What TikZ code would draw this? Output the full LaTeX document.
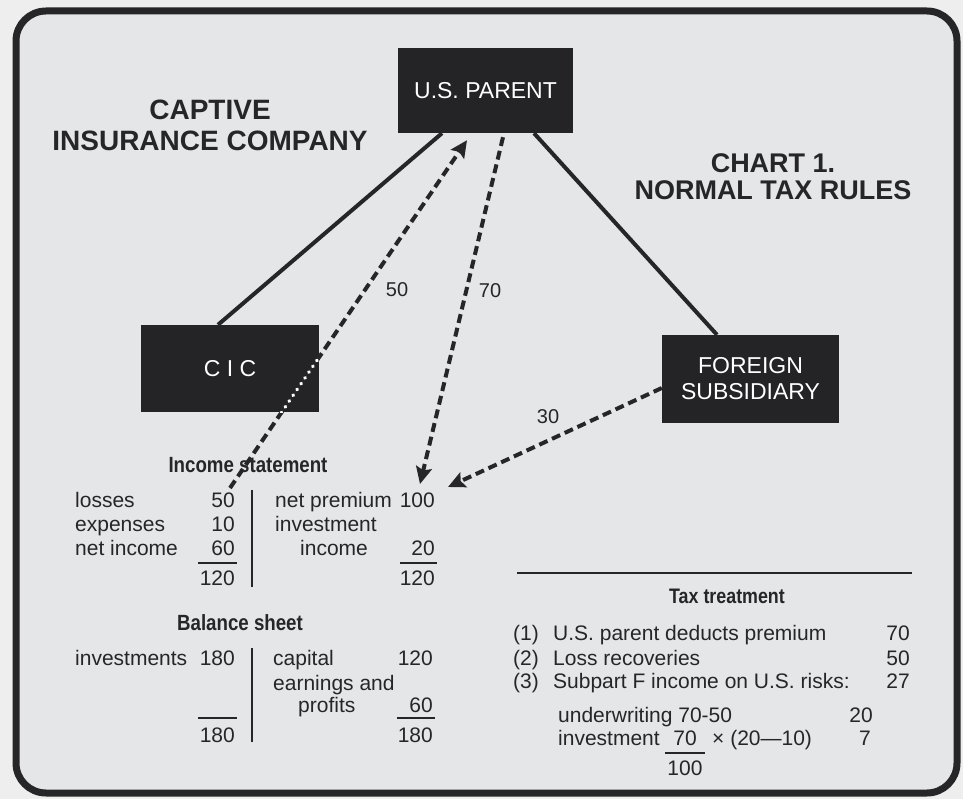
\documentclass[tikz,border=0pt]{standalone}
\usepackage{fontspec}
\setmainfont{Liberation Sans}
\newfontfamily\headfont{Liberation Sans}[FakeStretch=0.85]
\usetikzlibrary{arrows.meta,positioning}
\definecolor{page}{RGB}{238,238,238}
\definecolor{board}{RGB}{229,230,232}
\definecolor{ink}{RGB}{38,38,40}
\definecolor{boxfill}{RGB}{36,35,37}
\tikzset{
    entity/.style={
	rectangle,
	fill=boxfill,
	text=white,
	inner sep=0pt,
	align=center,
	font=\fontsize{23}{26}\selectfont
    },
    heading/.style={
	inner sep=0pt,
	align=center,
	text=ink,
	font=\bfseries\fontsize{28}{31}\selectfont
    },
    caption/.style={
	inner sep=0pt,
	anchor=base,
	text=ink,
	font=\headfont\bfseries\fontsize{22}{24}\selectfont
    },
    entry/.style={
	inner sep=0pt,
	anchor=base west,
	text=ink,
	font=\fontsize{21}{24}\selectfont
    },
    amount/.style={entry, anchor=base east},
    tag/.style={entry, anchor=center, font=\fontsize{20}{20}\selectfont},
    owner/.style={draw=ink, line width=4pt},
    flow/.style={
	draw=ink,
	line width=4pt,
	dash pattern=on 9pt off 5pt,
	-{Stealth[length=17pt,width=16pt,inset=3pt]}
    },
    rule/.style={draw=ink, line width=2pt},
}

\begin{document}
\begin{tikzpicture}[x=1pt,y=-1pt]

    \fill[page] (0,0) rectangle (963,799);
    \draw[ink, line width=7pt, rounded corners=30pt, fill=board]
	(16,11) rectangle (957,793);

    \node[entity, minimum width=175pt, minimum height=85pt] (parent)
	at (485.5,90.5) {U.S. PARENT};
    \node[entity, minimum width=178pt, minimum height=87pt] (cic)
	at (230,368.5) {C I C};
    \node[entity, minimum width=177pt, minimum height=88pt] (forsub)
	at (750.5,379) {FOREIGN\\SUBSIDIARY};

    \node[heading] (captive) at (210,125.5) {CAPTIVE\\INSURANCE COMPANY};
    \node[heading, font=\bfseries\fontsize{27}{27}\selectfont] (chart)
	at (773,177) {CHART 1.\\NORMAL TAX RULES};

    \coordinate (losstail) at (230,488);
    \coordinate (premhead) at (420,484);
    \coordinate (subhead) at (448,487);

    \draw[owner] ([xshift=-43.5pt]parent.south) -- ([xshift=-12pt]cic.north);
    \draw[owner] ([xshift=48.5pt]parent.south) -- ([xshift=-33.5pt]forsub.north);

    \draw[flow] (losstail) -- ([xshift=-18.5pt,yshift=-7pt]parent.south);
    \begin{scope}
	\clip (cic.south west) rectangle (cic.north east);
	\draw[white, line width=3.5pt, dash pattern=on 0.5pt off 6.5pt, line cap=round]
	    (losstail) -- ([xshift=-18.5pt,yshift=-7pt]parent.south);
    \end{scope}
    \draw[flow] ([xshift=17.5pt,yshift=-4pt]parent.south) -- (premhead);
    \draw[flow] ([yshift=-9pt]forsub.west) -- (subhead);

    \node[tag] (lossflow) at (397,290) {50};
    \node[tag] (premflow) at (490,291) {70};
    \node[tag] (subflow) at (548,417) {30};

    % income statement
    \node[caption] (incomehd) at (248,472) {Income statement};
    \node[entry] (losses) at (75,507) {losses};
    \node[amount] (lossamt) at (235,507) {50};
    \node[entry] (expenses) at (75,531) {expenses};
    \node[amount] (expamt) at (235,531) {10};
    \node[entry] (netinc) at (75,555) {net income};
    \node[amount] (netamt) at (235,555) {60};
    \node[amount] (debtot) at (235,585) {120};
    \draw[rule] (198,563) -- (237,563);
    \draw[ink, line width=2.5pt] (252,490) -- (252,587);
    \node[entry] (netprem) at (275,507) {net premium};
    \node[amount] (premamt) at (435,507) {100};
    \node[entry] (invest) at (275,531) {investment};
    \node[entry] (invinc) at (300,555) {income};
    \node[amount] (invamt) at (435,555) {20};
    \node[amount] (credtot) at (435,585) {120};
    \draw[rule] (400,563) -- (437,563);

    % balance sheet
    \node[caption] (balancehd) at (240,630) {Balance sheet};
    \node[entry] (assets) at (75,665) {investments};
    \node[amount] (assetamt) at (235,665) {180};
    \node[amount] (assettot) at (235,742) {180};
    \draw[rule] (198,718) -- (237,718);
    \draw[ink, line width=2.5pt] (252,648) -- (252,742);
    \node[entry] (capital) at (273,665) {capital};
    \node[amount] (capamt) at (433,665) {120};
    \node[entry] (earnings) at (273,690) {earnings and};
    \node[entry] (profits) at (298,712) {profits};
    \node[amount] (profamt) at (433,712) {60};
    \node[amount] (liabtot) at (433,742) {180};
    \draw[rule] (397,718) -- (435,718);

    % tax treatment
    \draw[rule] (517,573) -- (912,573);
    \node[caption, font=\headfont\bfseries\fontsize{21}{22}\selectfont] (taxhd)
	at (727,603) {Tax treatment};
    \node[entry] (one) at (513,640) {(1)};
    \node[entry] (deduct) at (553,640) {U.S. parent deducts premium};
    \node[amount] (deductamt) at (910,640) {70};
    \node[entry] (two) at (513,665) {(2)};
    \node[entry] (recover) at (553,665) {Loss recoveries};
    \node[amount] (recoveramt) at (910,665) {50};
    \node[entry] (three) at (513,688) {(3)};
    \node[entry] (subpart) at (553,688) {Subpart F income on U.S. risks:};
    \node[amount] (subpartamt) at (910,688) {27};
    \node[entry] (uwrite) at (558,722) {underwriting 70-50};
    \node[amount] (uwriteamt) at (873,722) {20};
    \node[entry] (invshare) at (558,745) {investment};
    \node[entry, anchor=base] (fracnum) at (685,745) {70};
    \node[entry, anchor=base] (fracden) at (685,775) {100};
    \draw[rule] (665,753) -- (705,753);
    \node[entry] (times) at (712,745) {× (20—10)};
    \node[amount] (invshareamt) at (871,745) {7};

\end{tikzpicture}
\end{document}
